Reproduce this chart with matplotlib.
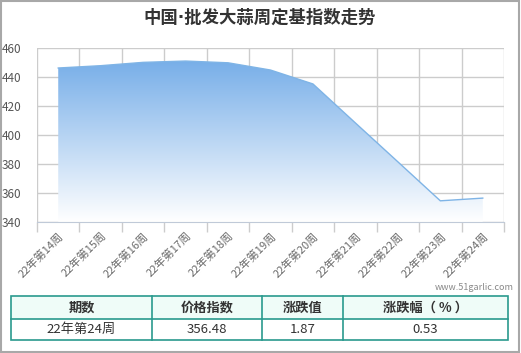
import matplotlib
matplotlib.use("Agg")
import matplotlib.pyplot as plt
import numpy as np
from matplotlib.patches import Polygon, Rectangle
from matplotlib.colors import LinearSegmentedColormap

plt.rcParams['font.family'] = ['Noto Sans CJK SC', 'DejaVu Sans']

title = "中国·批发大蒜周定基指数走势"
categories = ["22年第14周", "22年第15周", "22年第16周", "22年第17周", "22年第18周",
              "22年第19周", "22年第20周", "22年第21周", "22年第22周", "22年第23周", "22年第24周"]
values = [446.2, 447.8, 450.1, 451.0, 449.8, 444.8, 435.2, 408.3, 381.5, 354.61, 356.48]
yticks = [340, 360, 380, 400, 420, 440, 460]
table_header = ["期数", "价格指数", "涨跌值", "涨跌幅（ % ）"]
table_row = ["22年第24周", "356.48", "1.87", "0.53"]
watermark = "www.51garlic.com"

W, H = 521, 353
fig = plt.figure(figsize=(W / 100, H / 100), dpi=100)

def fx(px):
    return px / W

def fy(py):
    return 1 - py / H

# plot area
L, R, T, B = 37, 504, 48, 222
ax = fig.add_axes([fx(L), fy(B), fx(R) - fx(L), fy(T) - fy(B)])
n = len(categories)
x = np.arange(n)
ax.set_xlim(-0.5, n - 0.5)
ax.set_ylim(340, 460)

grid_c = '#cccccc'
ax.set_yticks(yticks)
ax.set_yticklabels([str(v) for v in yticks], fontsize=8.5, color='#555555')
ax.tick_params(axis='y', length=0, pad=11)
for v in yticks:
    ax.axhline(v, color=grid_c, lw=1, zorder=0)

ax.set_xticks(x)
ax.set_xticklabels(categories, rotation=45, ha='right', rotation_mode='anchor',
                   fontsize=8, color='#6a6a6a')
ax.tick_params(axis='x', length=0, pad=6)
bounds = np.arange(-0.5, n, 1.0)
ax.set_xticks(bounds, minor=True)
ax.tick_params(axis='x', which='minor', length=7, color=grid_c, width=1)
for b in bounds:
    ax.axvline(b, color=grid_c, lw=1, zorder=0)

for s in ['top', 'right', 'left']:
    ax.spines[s].set_visible(False)
ax.spines['bottom'].set_color('#c0cad8')

# gradient fill
cmap = LinearSegmentedColormap.from_list('g', [(1, 1, 1), (0.46, 0.68, 0.91)])
grad = np.linspace(0, 1, 256).reshape(-1, 1)
im = ax.imshow(grad, extent=[-0.5, n - 0.5, 340, max(values) + 2], origin='lower',
               aspect='auto', cmap=cmap, zorder=1)
pts = [(0, 340)] + list(zip(x, values)) + [(n - 1, 340)]
poly = Polygon(pts, closed=True, transform=ax.transData, facecolor='none', edgecolor='none')
ax.add_patch(poly)
im.set_clip_path(poly)
ax.plot(x, values, color='#7fb4e6', lw=1, zorder=2)
ax.set_xlim(-0.5, n - 0.5)
ax.set_ylim(340, 460)

# title
fig.text(fx(260), fy(18), title, ha='center', va='center', fontsize=12.5,
         fontweight='bold', color='#333333', family=['DejaVu Sans', 'Noto Sans CJK SC'])

# watermark
fig.text(fx(514), fy(288), watermark, ha='right', va='center', fontsize=6.5, color='#888888')

# table
tl, tr = 11, 508
ty0, ty1, ty2 = 296, 319, 340
cols = [11, 152, 262, 343, 508]
teal = '#2a9a8e'
fig.add_artist(Rectangle((fx(tl), fy(ty1)), fx(tr) - fx(tl), fy(ty0) - fy(ty1),
                         transform=fig.transFigure, facecolor='#effcf8', edgecolor='none'))
fig.add_artist(Rectangle((fx(tl), fy(ty2)), fx(tr) - fx(tl), fy(ty0) - fy(ty2),
                         transform=fig.transFigure, facecolor='none', edgecolor=teal, lw=1.2))
fig.add_artist(plt.Line2D([fx(tl), fx(tr)], [fy(ty1), fy(ty1)], transform=fig.transFigure,
                          color=teal, lw=1.2))
for c in cols[1:-1]:
    fig.add_artist(plt.Line2D([fx(c), fx(c)], [fy(ty0), fy(ty2)], transform=fig.transFigure,
                              color=teal, lw=1.2))
for i in range(4):
    cx = (cols[i] + cols[i + 1]) / 2
    fig.text(fx(cx), fy((ty0 + ty1) / 2), table_header[i], ha='center', va='center',
             fontsize=9.5, fontweight='bold', color='#333333')
    fig.text(fx(cx), fy((ty1 + ty2) / 2), table_row[i], ha='center', va='center',
             fontsize=9.5, color='#333333')

# outer border
fig.add_artist(Rectangle((0.001, 0.002), 0.996, 0.996, transform=fig.transFigure,
                         facecolor='none', edgecolor='#a8a8a8', lw=1.5))

fig.savefig('out.png', dpi=100)
